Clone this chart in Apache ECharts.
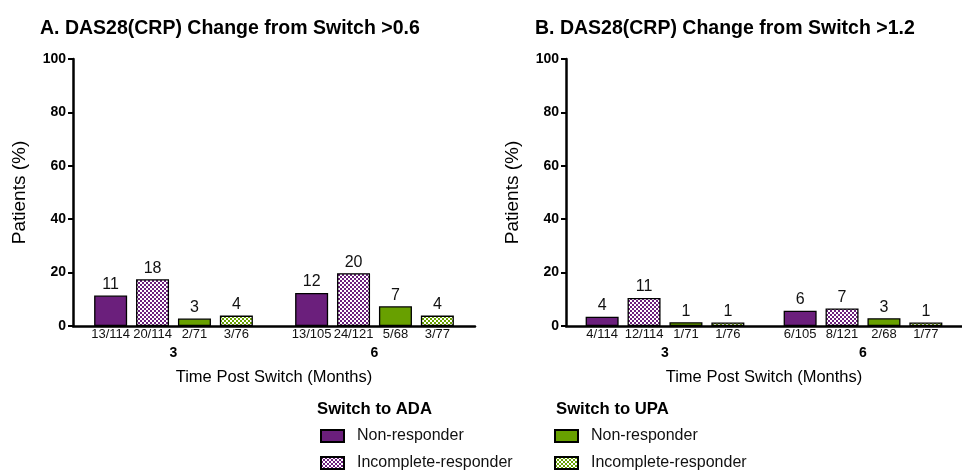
<!DOCTYPE html>
<html>
<head>
<meta charset="utf-8">
<script src="https://cdn.jsdelivr.net/npm/echarts@6/dist/echarts.min.js"></script>
<style>
html, body { margin: 0; padding: 0; background: #fff; }
#main { width: 962px; height: 470px; }
</style>
</head>
<body>
<div id="main"></div>
<script>
var months = ['3', '6'];
var groupNames = ['ADA Non-responder', 'ADA Incomplete-responder', 'UPA Non-responder', 'UPA Incomplete-responder'];

// A. DAS28(CRP) change > 0.6, % of patients at [3, 6] months
var aAdaNon = [11.4, 12.4];
var aAdaInc = [17.5, 19.8];
var aUpaNon = [2.8, 7.4];
var aUpaInc = [3.9, 3.9];
var aFrac = [['13/114', '13/105'], ['20/114', '24/121'], ['2/71', '5/68'], ['3/76', '3/77']];

// B. DAS28(CRP) change > 1.2
var bAdaNon = [3.5, 5.7];
var bAdaInc = [10.5, 6.6];
var bUpaNon = [1.4, 2.9];
var bUpaInc = [1.3, 1.3];
var bFrac = [['4/114', '6/105'], ['12/114', '8/121'], ['1/71', '2/68'], ['1/76', '1/77']];

var FONT = 'Liberation Sans, Arial, sans-serif';
var purple = '#6b1f7c';
var green = '#68a000';

function checker(c1, c2, s) {
    var cv = document.createElement('canvas');
    cv.width = cv.height = s * 2;
    var ctx = cv.getContext('2d');
    ctx.fillStyle = c2;
    ctx.fillRect(0, 0, s * 2, s * 2);
    ctx.fillStyle = c1;
    ctx.fillRect(0, 0, s, s);
    ctx.fillRect(s, s, s, s);
    return { image: cv, repeat: 'repeat' };
}

var fills = [purple, checker(purple, '#ffffff', 2), green, checker(green, '#ffffff', 2)];

var panels = [
    { values: [aAdaNon, aAdaInc, aUpaNon, aUpaInc], fracs: aFrac, left: 73 },
    { values: [bAdaNon, bAdaInc, bUpaNon, bUpaInc], fracs: bFrac, left: 566 }
];

var grids = [], xAxes = [], yAxes = [], series = [];

panels.forEach(function (p, pi) {
    grids.push({ left: p.left, top: 59, width: 402, height: 267 });
    xAxes.push({
        type: 'category', gridIndex: pi, data: months,
        name: 'Time Post Switch (Months)', nameLocation: 'middle', nameGap: 43,
        nameTextStyle: { fontFamily: FONT, fontSize: 16.5, color: '#000' },
        axisLine: { lineStyle: { color: '#000', width: 2.5 } },
        axisTick: { alignWithLabel: true, length: 4, lineStyle: { color: '#000', width: 2.5 } },
        axisLabel: { margin: 20, fontFamily: FONT, fontSize: 14, fontWeight: 'bold', color: '#000' }
    });
    yAxes.push({
        type: 'value', gridIndex: pi, min: 0, max: 100, interval: 20,
        name: 'Patients (%)', nameLocation: 'middle', nameGap: 44, nameRotate: 90,
        nameTextStyle: { fontFamily: FONT, fontSize: 19, color: '#000' },
        splitLine: { show: false },
        axisLine: { show: true, lineStyle: { color: '#000', width: 2.5 } },
        axisTick: { show: true, length: 5, lineStyle: { color: '#000', width: 2 } },
        axisLabel: { margin: 7, fontFamily: FONT, fontSize: 14, fontWeight: 'bold', color: '#000' }
    });
    p.values.forEach(function (vals, gi) {
        var stack = 'p' + pi + 'g' + gi;
        // carrier for the n/N labels under the axis
        series.push({
            type: 'bar', name: 'frac-' + pi + '-' + gi, stack: stack,
            xAxisIndex: pi, yAxisIndex: pi, barWidth: 33, barGap: '27%',
            data: vals.map(function () { return 0; }),
            itemStyle: { color: 'transparent', borderWidth: 0 },
            silent: true,
            label: {
                show: true, position: 'bottom', distance: 2,
                fontFamily: FONT, fontSize: 13, color: '#111',
                formatter: function (prm) { return p.fracs[gi][prm.dataIndex]; }
            }
        });
        series.push({
            type: 'bar', name: groupNames[gi], stack: stack,
            xAxisIndex: pi, yAxisIndex: pi, barWidth: 33, barGap: '27%',
            data: vals,
            itemStyle: { color: fills[gi], borderColor: '#000', borderWidth: 1.3 },
            label: {
                show: true, position: 'top', distance: 3,
                fontFamily: FONT, fontSize: 16, color: '#111',
                formatter: function (prm) { return Math.round(prm.value); }
            }
        });
    });
});

var legendBase = {
    orient: 'vertical', top: 428, height: 60, itemWidth: 23, itemHeight: 12, itemGap: 11,
    padding: 0, icon: 'rect',
    formatter: function (name) { return name.slice(4); },
    textStyle: { fontFamily: FONT, fontSize: 16, color: '#111', padding: [0, 0, 0, 8] }
};

var chart = echarts.init(document.getElementById('main'));
chart.setOption({
    animation: false,
    title: [
        { text: 'A. DAS28(CRP) Change from Switch >0.6', left: 35, top: 14,
          textStyle: { fontFamily: FONT, fontSize: 19.5, fontWeight: 'bold', color: '#000' } },
        { text: 'B. DAS28(CRP) Change from Switch >1.2', left: 530, top: 14,
          textStyle: { fontFamily: FONT, fontSize: 19.5, fontWeight: 'bold', color: '#000' } },
        { text: 'Switch to ADA', left: 312, top: 396,
          textStyle: { fontFamily: FONT, fontSize: 16.7, fontWeight: 'bold', color: '#000' } },
        { text: 'Switch to UPA', left: 551, top: 396,
          textStyle: { fontFamily: FONT, fontSize: 16.7, fontWeight: 'bold', color: '#000' } }
    ],
    legend: [
        Object.assign({}, legendBase, { left: 320, data: [groupNames[0], groupNames[1]] }),
        Object.assign({}, legendBase, { left: 554, data: [groupNames[2], groupNames[3]] })
    ],
    grid: grids,
    xAxis: xAxes,
    yAxis: yAxes,
    series: series
});
</script>
</body>
</html>
